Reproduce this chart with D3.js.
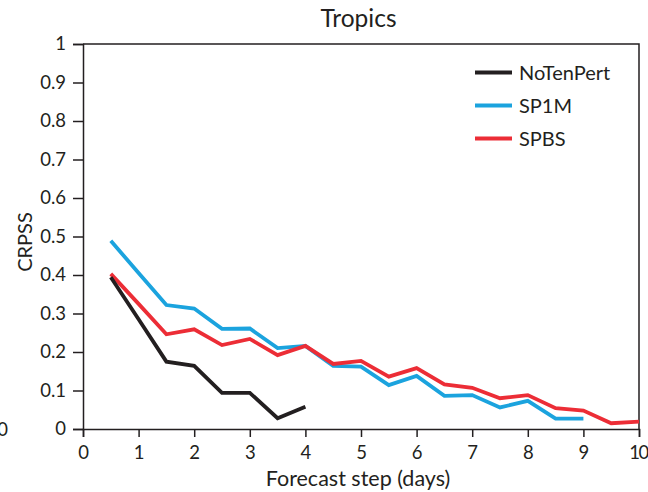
<!DOCTYPE html>
<html><head><meta charset="utf-8">
<script src="https://cdn.jsdelivr.net/npm/d3@7"></script>
<style>
body{margin:0;background:#fff;}
text{font-family:Lato,"Open Sans",sans-serif;fill:#231f20;}
</style></head>
<body><svg id="c" width="648" height="492"></svg>
<script>
const steps = [0.5,1,1.5,2,2.5,3,3.5,4,4.5,5,5.5,6,6.5,7,7.5,8,8.5,9,9.5,10];
const noTenPert = [0.394,0.285,0.175,0.164,0.094,0.094,0.028,0.058];
const sp1m = [0.489,0.405,0.322,0.313,0.26,0.261,0.21,0.216,0.164,0.162,0.114,0.138,0.086,0.088,0.056,0.073,0.027,0.027];
const spbs = [0.403,0.325,0.246,0.259,0.218,0.234,0.192,0.216,0.169,0.177,0.136,0.158,0.116,0.107,0.08,0.088,0.054,0.048,0.015,0.019];
const xTicks = [0,1,2,3,4,5,6,7,8,9,10];
const yTicks = [0,0.1,0.2,0.3,0.4,0.5,0.6,0.7,0.8,0.9,1];
const seriesNames = ["NoTenPert","SP1M","SPBS"];
const seriesColors = ["#231f20","#1ba3de","#ec2d36"];

const svg = d3.select("#c");
const L=83,R=639,T=44,B=429;
const x = d3.scaleLinear().domain([0,10]).range([L,R]);
const y = d3.scaleLinear().domain([0,1]).range([B,T]);

// frame
svg.append("path").attr("d",`M${L},${T}H${R}V${B}`).attr("fill","none").attr("stroke","#231f20").attr("stroke-width",1.5);

const xa = svg.append("g").attr("transform",`translate(0,${B})`)
  .call(d3.axisBottom(x).tickValues(xTicks).tickFormat(d3.format("d")).tickSize(8).tickPadding(9));
const ya = svg.append("g").attr("transform",`translate(${L},0)`)
  .call(d3.axisLeft(y).tickValues(yTicks).tickFormat(d=>d===0||d===1?String(d):d3.format(".1f")(d)).tickSize(10).tickPadding(7));
[xa,ya].forEach(a=>{
  a.select(".domain").attr("stroke","#231f20").attr("stroke-width",1.5);
  a.selectAll(".tick line").attr("stroke","#231f20").attr("stroke-width",1.5);
  a.selectAll(".tick text").attr("font-size",18.5).attr("fill","#231f20").style("font-family",'Lato,"Open Sans",sans-serif');
});
xa.selectAll(".tick text").filter(d=>d===10).attr("letter-spacing",-1.5).attr("dx",-1);

const line = d3.line().x((d,i)=>x(steps[i])).y(d=>y(d));
[sp1m,spbs,noTenPert].forEach((s,k)=>{
  const c = [seriesColors[1],seriesColors[2],seriesColors[0]][k];
  svg.append("path").datum(s).attr("d",line).attr("fill","none")
    .attr("stroke",c).attr("stroke-width",3.8);
});

// legend
seriesNames.forEach((n,i)=>{
  const yy = 72.5 + i*33;
  svg.append("line").attr("x1",475).attr("x2",512).attr("y1",yy).attr("y2",yy)
    .attr("stroke",seriesColors[i]).attr("stroke-width",4);
  svg.append("text").attr("x",519).attr("y",yy+7.5).attr("font-size",20).text(n);
});

svg.append("text").attr("x",358.5).attr("y",27).attr("text-anchor","middle").attr("font-size",24.5).text("Tropics");
svg.append("text").attr("x",358).attr("y",486).attr("text-anchor","middle").attr("font-size",21.5).text("Forecast step (days)");
svg.append("text").attr("transform","translate(32,242) rotate(-90)").attr("text-anchor","middle").attr("font-size",20).text("CRPSS");
// stray label from neighbouring panel, cut at page edge
svg.append("text").attr("x",8).attr("y",436).attr("text-anchor","end").attr("font-size",18.5).text("10");
</script></body></html>
